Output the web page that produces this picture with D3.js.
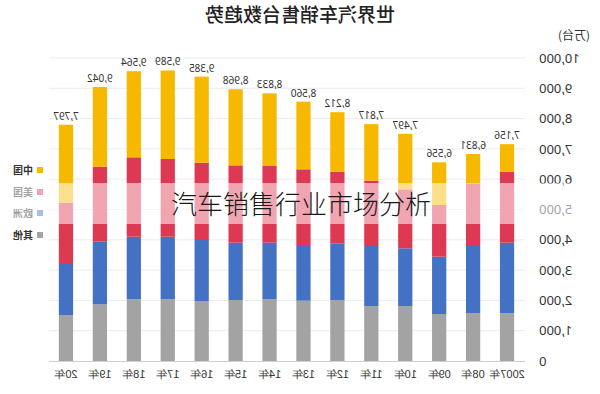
<!DOCTYPE html>
<html>
<head>
<meta charset="utf-8">
<script src="https://cdn.jsdelivr.net/npm/d3@7"></script>
<style>
  html, body { margin: 0; padding: 0; background: #fff; }
  svg { display: block; font-family: "Noto Sans CJK SC", "Noto Sans", sans-serif; }
</style>
</head>
<body>
<svg id="chart"></svg>
<script>
(function() {

    // data, 万台
    const years = ['2007年', '08年', '09年', '10年', '11年', '12年', '13年', '14年', '15年', '16年', '17年', '18年', '19年', '20年'];
    const totals = [7156, 6831, 6556, 7497, 7817, 8212, 8560, 8833, 8968, 9385, 9589, 9564, 9042, 7797];
    const other = [1573, 1573, 1551, 1815, 1815, 2013, 1991, 2036, 2013, 1980, 2036, 2036, 1870, 1518];
    const europe = [2332, 2222, 1892, 1904, 1980, 1871, 1837, 1869, 1892, 2013, 2067, 2067, 2068, 1683];
    const usa = [2344, 2069, 1706, 1947, 2157, 2365, 2498, 2530, 2552, 2552, 2564, 2619, 2475, 2023];
    const china = [907, 967, 1407, 1831, 1865, 1963, 2234, 2398, 2511, 2840, 2922, 2842, 2629, 2573];
    const yTicks = [0, 1000, 2000, 3000, 4000, 5000, 6000, 7000, 8000, 9000, 10000];
    const seriesNames = ['其他', '欧洲', '美国', '中国'];
    const legendNames = ['中国', '美国', '欧洲', '其他'];

    const w = 600;
    const h = 394;
    const colors = { '中国': '#F6B900', '美国': '#DD3953', '欧洲': '#4371C3', '其他': '#A3A3A3' };

    const rows = years.map((y, i) => ({ year: y, '其他': other[i], '欧洲': europe[i], '美国': usa[i], '中国': china[i], total: totals[i] }));
    const stacked = d3.stack().keys(seriesNames)(rows);

    const scaleX = d3.scaleBand().domain(years).range([76, 551]).paddingInner(0.58).paddingOuter(0.29);
    const scaleY = d3.scaleLinear().domain([0, 10000]).range([361, 58]);

    const svg = d3.select('#chart').attr('width', w).attr('height', h);

    // the whole picture is mirrored left-right
    const g = svg.append('g').attr('transform', `translate(${w},0) scale(-1,1)`);

    // title
    g.append('text')
        .attr('x', 300).attr('y', 22)
        .attr('text-anchor', 'middle')
        .attr('font-size', 19).attr('font-weight', 500).attr('fill', '#222')
        .text('世界汽车销售台数趋势');

    g.append('text')
        .attr('x', 10).attr('y', 40)
        .attr('font-size', 12).attr('fill', '#333')
        .text('(万台)');

    // grid
    g.append('g')
        .selectAll('line')
        .data(yTicks.filter(t => t > 0))
        .enter().append('line')
        .attr('x1', 75).attr('x2', 551)
        .attr('y1', d => scaleY(d)).attr('y2', d => scaleY(d))
        .attr('stroke', '#ececec').attr('stroke-width', 1);

    // y axis
    const yAxis = d3.axisLeft(scaleY).tickValues(yTicks).tickSize(0).tickPadding(0).tickFormat(d3.format(','));
    g.append('g')
        .attr('transform', 'translate(61,0)')
        .call(yAxis)
        .call(s => s.select('.domain').remove())
        .selectAll('text')
        .attr('font-size', 13).attr('fill', '#333')
        .attr('font-family', '"Noto Sans", sans-serif');

    // bars
    g.append('g')
        .selectAll('g')
        .data(stacked)
        .enter().append('g')
        .attr('fill', d => colors[d.key])
        .selectAll('rect')
        .data(d => d)
        .enter().append('rect')
        .attr('x', d => scaleX(d.data.year))
        .attr('y', d => scaleY(d[1]))
        .attr('width', scaleX.bandwidth())
        .attr('height', d => scaleY(d[0]) - scaleY(d[1]));

    // baseline
    g.append('line')
        .attr('x1', 75).attr('x2', 551)
        .attr('y1', scaleY(0) + 0.5).attr('y2', scaleY(0) + 0.5)
        .attr('stroke', '#d0d0d0');

    // total labels
    g.append('g')
        .selectAll('text')
        .data(rows)
        .enter().append('text')
        .attr('x', d => scaleX(d.year) + scaleX.bandwidth() / 2)
        .attr('y', d => scaleY(d.total) - 5)
        .attr('text-anchor', 'middle')
        .attr('font-size', 10).attr('fill', '#333')
        .attr('font-family', '"Noto Sans", sans-serif')
        .text(d => d3.format(',')(d.total));

    // x axis
    const xAxis = d3.axisBottom(scaleX).tickSize(0).tickPadding(0);
    g.append('g')
        .attr('transform', `translate(0, ${scaleY(0) + 9})`)
        .call(xAxis)
        .call(s => s.select('.domain').remove())
        .selectAll('text')
        .attr('font-size', 11).attr('fill', '#333');

    // legend
    const legend = g.append('g').attr('transform', 'translate(557, 0)');
    const legendY = [170, 192, 213, 235];
    legendNames.forEach((name, i) => {
        legend.append('rect')
            .attr('x', 0).attr('y', legendY[i] - 3)
            .attr('width', 6).attr('height', 6)
            .attr('fill', colors[name]);
        legend.append('text')
            .attr('x', 10).attr('y', legendY[i] + 4)
            .attr('font-size', 10).attr('font-weight', 700).attr('fill', '#333')
            .text(name);
    });

    // watermark band
    svg.append('rect')
        .attr('x', 0).attr('y', 183)
        .attr('width', w).attr('height', 41)
        .attr('fill', '#fff').attr('opacity', 0.55);

    svg.append('text')
        .attr('x', 301).attr('y', 214)
        .attr('text-anchor', 'middle')
        .attr('font-size', 26).attr('font-weight', 300).attr('fill', '#1a1a1a')
        .text('汽车销售行业市场分析');

})();
</script>
</body>
</html>
